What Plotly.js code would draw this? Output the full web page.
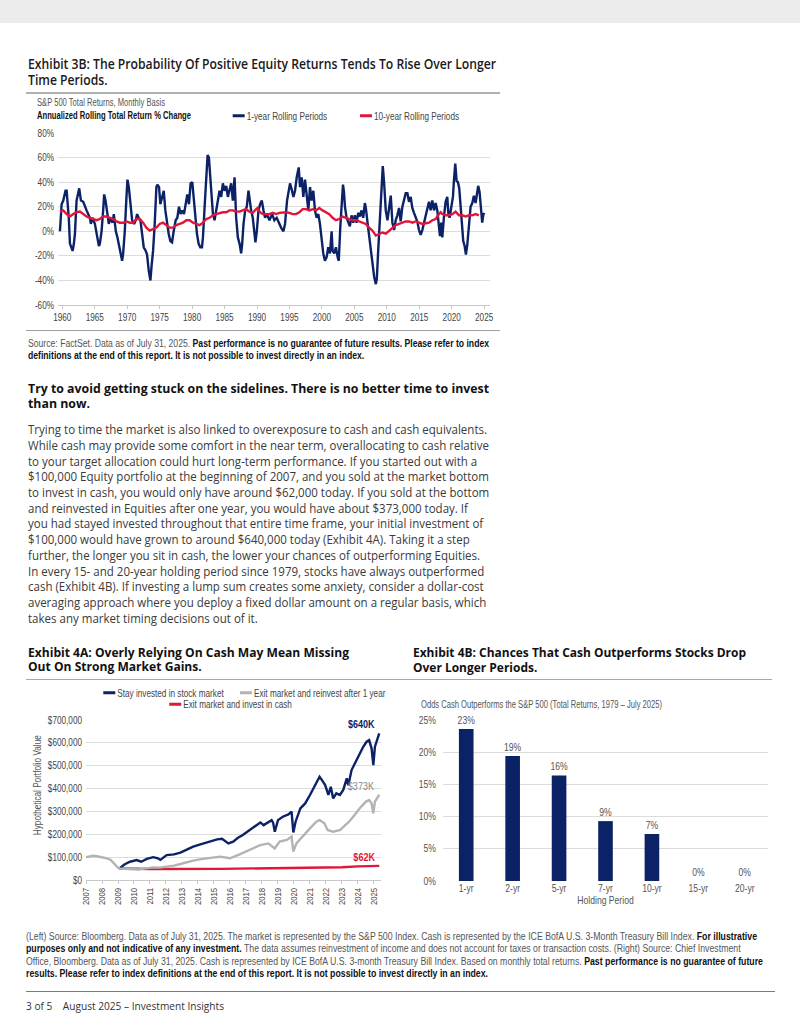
<!DOCTYPE html>
<html><head><meta charset="utf-8">
<script src="https://cdn.plot.ly/plotly-3.0.1.min.js"></script>
<style>
html,body{margin:0;padding:0;background:#fff;}
body{width:800px;height:1035px;position:relative;overflow:hidden;}
.blk{position:absolute;white-space:nowrap;transform-origin:0 0;}
.body{font-family:"Open Sans","Noto Sans",sans-serif;}
.cond{font-family:"Liberation Sans",Arial,sans-serif;}
.rule{position:absolute;}
.chart{position:absolute;}
b{font-weight:700;color:#111;}
</style></head>
<body>
<div style="position:absolute;left:0;top:0;width:800px;height:23px;background:#ececec"></div>

<div class="blk body" data-w="468" style="left:28px;top:56px;font-size:13.5px;line-height:16px;font-weight:600;color:#1a1a1a">
<div><span>Exhibit 3B: The Probability Of Positive Equity Returns Tends To Rise Over Longer</span></div>
<div><span>Time Periods.</span></div>
</div>
<div class="rule" style="left:26px;top:92px;width:474px;height:2px;background:#b0b0b0"></div>

<div class="blk cond" data-w="128" style="left:37px;top:97px;font-size:10px;line-height:12px;color:#555">
<div><span>S&amp;P 500 Total Returns, Monthly Basis</span></div>
</div>
<div class="blk cond" data-w="154" style="left:37px;top:109.5px;font-size:10px;line-height:12px;color:#111;font-weight:700">
<div><span>Annualized Rolling Total Return % Change</span></div>
</div>

<div id="c1" class="chart" style="left:0;top:95px;width:510px;height:235px"></div>
<div class="rule" style="left:26px;top:330px;width:474px;height:1px;background:#a0a0a0"></div>

<div class="blk cond" data-w="461" style="left:28px;top:338px;font-size:10px;line-height:11.5px;color:#555">
<div><span>Source: FactSet. Data as of July 31, 2025. <b>Past performance is no guarantee of future results. Please refer to index</b></span></div>
<div><span><b>definitions at the end of this report. It is not possible to invest directly in an index.</b></span></div>
</div>

<div class="blk body" data-w="461" style="left:28px;top:380.5px;font-size:13px;line-height:15.5px;font-weight:700;color:#111">
<div><span>Try to avoid getting stuck on the sidelines. There is no better time to invest</span></div>
<div><span>than now.</span></div>
</div>

<div class="blk body" data-w="459" style="left:28px;top:422.2px;font-size:12.4px;line-height:15.7px;color:#3a3a3a">
<div><span>Trying to time the market is also linked to overexposure to cash and cash equivalents.</span></div>
<div><span>While cash may provide some comfort in the near term, overallocating to cash relative</span></div>
<div><span>to your target allocation could hurt long-term performance. If you started out with a</span></div>
<div><span>$100,000 Equity portfolio at the beginning of 2007, and you sold at the market bottom</span></div>
<div><span>to invest in cash, you would only have around $62,000 today. If you sold at the bottom</span></div>
<div><span>and reinvested in Equities after one year, you would have about $373,000 today. If</span></div>
<div><span>you had stayed invested throughout that entire time frame, your initial investment of</span></div>
<div><span>$100,000 would have grown to around $640,000 today (Exhibit 4A). Taking it a step</span></div>
<div><span>further, the longer you sit in cash, the lower your chances of outperforming Equities.</span></div>
<div><span>In every 15- and 20-year holding period since 1979, stocks have always outperformed</span></div>
<div><span>cash (Exhibit 4B). If investing a lump sum creates some anxiety, consider a dollar-cost</span></div>
<div><span>averaging approach where you deploy a fixed dollar amount on a regular basis, which</span></div>
<div><span>takes any market timing decisions out of it.</span></div>
</div>

<div class="blk body" data-w="321" style="left:28px;top:644.5px;font-size:13px;line-height:14.6px;font-weight:700;color:#111">
<div><span>Exhibit 4A: Overly Relying On Cash May Mean Missing</span></div>
<div><span>Out On Strong Market Gains.</span></div>
</div>
<div class="blk body" data-w="333" style="left:412.5px;top:644.5px;font-size:13px;line-height:15px;font-weight:700;color:#111">
<div><span>Exhibit 4B: Chances That Cash Outperforms Stocks Drop</span></div>
<div><span>Over Longer Periods.</span></div>
</div>
<div class="rule" style="left:26px;top:678.5px;width:746px;height:1.5px;background:#a8a8a8"></div>

<div id="c4a" class="chart" style="left:0;top:683px;width:400px;height:240px"></div>
<div id="c4b" class="chart" style="left:400px;top:683px;width:400px;height:240px"></div>
<div class="blk cond" data-w="241" style="left:421px;top:699px;font-size:10px;line-height:12px;color:#555">
<div><span>Odds Cash Outperforms the S&amp;P 500 (Total Returns, 1979 – July 2025)</span></div>
</div>

<div class="blk cond" data-w="731" style="left:26px;top:930.7px;font-size:10px;line-height:12.6px;color:#555">
<div><span>(Left) Source: Bloomberg. Data as of July 31, 2025. The market is represented by the S&amp;P 500 Index. Cash is represented by the ICE BofA U.S. 3-Month Treasury Bill Index. <b>For illustrative</b></span></div>
<div><span><b>purposes only and not indicative of any investment.</b> The data assumes reinvestment of income and does not account for taxes or transaction costs. (Right) Source: Chief Investment</span></div>
<div><span>Office, Bloomberg. Data as of July 31, 2025. Cash is represented by ICE BofA U.S. 3-month Treasury Bill Index. Based on monthly total returns. <b>Past performance is no guarantee of future</b></span></div>
<div><span><b>results. Please refer to index definitions at the end of this report. It is not possible to invest directly in an index.</b></span></div>
</div>
<div class="rule" style="left:26px;top:991px;width:749px;height:1px;background:#7a7a7a"></div>
<div class="blk body" data-w="198" style="left:26px;top:998px;font-size:11.5px;line-height:16px;color:#333">
<div><span>3 of 5&nbsp;&nbsp;&nbsp; August 2025 – Investment Insights</span></div>
</div>

<script>
// ---------- Exhibit 3B: annualized rolling total returns (%), x = year as drawn ----------
const oneYrX = [1959.64,1959.9,1960.15,1960.5,1960.67,1961.0,1961.18,1961.43,1961.59,1961.79,1961.95,1962.2,1962.46,1962.61,1962.87,1963.23,1963.74,1964.25,1964.41,1964.66,1965.02,1965.38,1965.64,1965.79,1966.05,1966.3,1966.45,1966.66,1966.92,1967.17,1967.43,1967.74,1967.94,1968.25,1968.5,1968.76,1969.02,1969.22,1969.38,1969.63,1969.89,1970.04,1970.25,1970.5,1970.76,1971.07,1971.32,1971.53,1971.83,1972.04,1972.3,1972.55,1972.86,1973.06,1973.32,1973.58,1973.78,1973.99,1974.24,1974.5,1974.65,1974.91,1975.11,1975.42,1975.63,1975.88,1976.14,1976.39,1976.65,1976.91,1977.16,1977.47,1977.73,1977.98,1978.24,1978.49,1978.75,1979.01,1979.26,1979.52,1979.77,1980.03,1980.24,1980.49,1980.75,1981.0,1981.26,1981.52,1981.67,1981.93,1982.18,1982.39,1982.59,1982.8,1983.0,1983.21,1983.46,1983.72,1983.98,1984.23,1984.49,1984.74,1985.0,1985.26,1985.51,1985.77,1986.02,1986.28,1986.54,1986.79,1987.05,1987.31,1987.56,1987.72,1987.92,1988.18,1988.43,1988.69,1988.84,1989.1,1989.35,1989.61,1989.76,1989.97,1990.23,1990.48,1990.74,1991.0,1991.25,1991.51,1991.92,1992.33,1992.68,1993.04,1993.45,1993.71,1994.07,1994.32,1994.63,1994.89,1995.09,1995.4,1995.61,1995.86,1996.12,1996.43,1996.63,1996.89,1997.14,1997.4,1997.65,1997.91,1998.17,1998.42,1998.68,1998.93,1999.19,1999.45,1999.7,1999.96,2000.21,2000.47,2000.73,2000.98,2001.24,2001.5,2001.65,2001.9,2002.16,2002.42,2002.6,2002.85,2003.05,2003.25,2003.4,2003.55,2003.8,2004.06,2004.31,2004.57,2004.83,2005.08,2005.34,2005.59,2005.85,2006.11,2006.36,2006.62,2006.77,2007.03,2007.28,2007.54,2007.8,2008.05,2008.31,2008.46,2008.66,2008.92,2009.18,2009.38,2009.59,2009.84,2010.1,2010.35,2010.61,2010.86,2011.12,2011.37,2011.63,2011.89,2012.14,2012.4,2012.66,2012.91,2013.17,2013.42,2013.68,2013.93,2014.19,2014.45,2014.7,2014.96,2015.22,2015.47,2015.73,2015.99,2016.24,2016.5,2016.75,2017.01,2017.27,2017.52,2017.78,2018.03,2018.19,2018.39,2018.55,2018.81,2019.06,2019.32,2019.47,2019.67,2019.83,2019.98,2020.19,2020.34,2020.55,2020.75,2020.96,2021.16,2021.37,2021.57,2021.78,2021.99,2022.19,2022.4,2022.65,2022.91,2023.17,2023.42,2023.68,2023.93,2024.08,2024.29,2024.49,2024.7,2024.85,2025.0];
const oneYrRet = [0,22,25,33,33,11,-10,-14,-16,-10,-2,25,33,35,25,24,17,11,6,11,6,-5,-12,-10,0,17,30,25,14,6,11,7,14,0,-5,-13,-20,-24,-18,0,28,42,36,22,9,6,9,14,10,9,-2,-13,-16,-19,-32,-40,-27,-16,6,36,38,36,22,30,33,17,6,-2,-8,-9,0,9,11,20,14,17,14,22,30,22,39,40,28,11,-2,-10,-13,-13,-5,20,47,62,60,44,25,14,9,17,25,33,28,39,33,37,28,33,39,25,44,11,-5,-10,-18,-10,6,17,20,33,25,17,11,-5,-9,0,17,22,25,17,11,14,9,14,9,11,6,3,0,6,25,33,39,33,28,33,44,52,36,44,28,42,28,17,36,25,33,17,11,14,6,-5,-18,-24,-21,-13,-18,0,-16,-18,-13,-21,-24,5,25,38,32,20,11,7,4,13,7,13,7,15,12,17,11,23,19,7,-4,-12,-23,-37,-43,-39,-17,9,39,53,39,17,9,20,29,7,1,9,13,19,8,20,25,31,31,24,28,19,15,12,8,1,-3,1,7,13,17,24,17,25,17,23,17,4,-4,7,-5,12,24,28,15,11,17,20,28,41,55,41,40,35,20,4,-8,-12,-19,-11,4,20,23,29,23,32,37,32,20,7,13,15];
const tenYrX = [1959.64,1960.15,1960.67,1961.18,1961.69,1962.2,1962.72,1963.23,1963.74,1964.25,1964.76,1965.28,1965.79,1966.3,1966.81,1967.33,1967.84,1968.35,1968.86,1969.38,1969.89,1970.4,1970.91,1971.42,1971.94,1972.45,1972.96,1973.47,1973.99,1974.5,1975.01,1975.52,1976.03,1976.55,1977.06,1977.57,1978.08,1978.6,1979.11,1979.62,1980.13,1980.65,1981.16,1981.67,1982.18,1982.7,1983.21,1983.72,1984.23,1984.74,1985.26,1985.77,1986.28,1986.79,1987.31,1987.82,1988.33,1988.84,1989.35,1989.87,1990.12,1990.38,1990.89,1991.4,1991.92,1992.43,1992.94,1993.45,1993.97,1994.48,1994.99,1995.5,1996.01,1996.53,1997.04,1997.55,1998.06,1998.58,1999.09,1999.6,2000.11,2000.63,2001.14,2001.65,2002.16,2002.67,2003.19,2003.7,2004.21,2004.72,2005.24,2005.75,2006.26,2006.77,2007.28,2007.8,2008.31,2008.82,2009.33,2009.85,2010.36,2010.87,2011.38,2011.89,2012.41,2012.92,2013.43,2013.94,2014.46,2014.97,2015.48,2015.99,2016.5,2017.02,2017.53,2018.04,2018.3,2018.55,2019.07,2019.58,2020.09,2020.6,2021.11,2021.63,2022.14,2022.65,2023.16,2023.68,2024.19];
const tenYrRet = [16,17,14,12,14,15.5,16,14,12,11,10,9,10,12,12,11,10,8,7,7,8,7,7,10,10,7,3,0.5,2,3,6,7,5,3,3,5,6,7,9,9,7,6,5,7,10,11,13,14,15,15.5,15.5,17,17,16,16,17,18,16,15,18,19,16,14,14,14,15,14,15,15.5,15.5,15,14,14,15.5,18,18,17,18,17,19,17,15.5,14,11,9,10,12,11,10,9,9,8,7,6,3,0.5,-3.5,-2,-1,-2,0.5,3,5,6,7,8,8,7,8,7,6,6.5,7,9,10,14,15.5,14,13,13,14,16,13,13,12,13,13,14,13];
const ex3bXTicks = [1960,1965,1970,1975,1980,1985,1990,1995,2000,2005,2010,2015,2020,2025];
const ex3bYTicks = [-60,-40,-20,0,20,40,60,80];
const ex3bYText = ['-60%','-40%','-20%','0%','20%','40%','60%','80%'];

// ---------- Exhibit 4A: hypothetical portfolio value ($) ----------
const stayX = [2009.08,2009.4,2009.75,2010.17,2010.45,2010.8,2011.2,2011.5,2011.65,2012.04,2012.5,2012.9,2013.3,2013.7,2014.1,2014.5,2014.9,2015.2,2015.5,2015.7,2015.9,2016.2,2016.5,2016.8,2017.25,2017.5,2017.7,2017.9,2018.1,2018.3,2018.6,2018.7,2018.8,2019.0,2019.3,2019.65,2019.85,2019.96,2020.1,2020.4,2020.7,2021.0,2021.3,2021.6,2021.75,2021.95,2022.15,2022.3,2022.45,2022.65,2022.87,2023.08,2023.3,2023.4,2023.6,2023.9,2024.1,2024.33,2024.54,2024.7,2024.85,2024.96,2025.06,2025.17,2025.33];
const stayVal = [50000,68000,80000,87000,80000,92000,100000,95000,88000,109000,112000,120000,133000,146000,155000,163000,172000,178000,180000,170000,160000,168000,185000,197000,219000,232000,240000,252000,240000,248000,262000,250000,211000,262000,277000,287000,299000,208000,255000,313000,335000,372000,415000,452000,437000,415000,372000,408000,357000,379000,372000,394000,445000,415000,481000,525000,547000,583000,605000,612000,576000,503000,583000,605000,642000];
const reinvX = [2007.0,2007.2,2007.45,2007.7,2007.9,2008.3,2008.55,2008.75,2008.95,2009.08,2009.5,2010.0,2010.3,2010.6,2011.2,2011.6,2012.04,2012.5,2012.9,2013.3,2013.7,2014.1,2014.5,2014.9,2015.375,2015.7,2016.0,2016.6,2017.25,2017.9,2018.4,2018.8,2019.1,2019.55,2019.85,2019.96,2020.15,2020.6,2021.0,2021.4,2021.6,2021.9,2022.1,2022.45,2022.9,2023.2,2023.4,2023.7,2024.1,2024.5,2024.7,2024.85,2024.96,2025.06,2025.33];
const reinvVal = [100000,102000,106000,104000,102000,95000,88000,70000,57000,50000,49000,48000,46000,50000,55000,54000,58000,63000,70000,78000,85000,90000,95000,98000,102000,98000,95000,112000,131000,153000,160000,138000,168000,175000,190000,124000,160000,197000,226000,255000,262000,248000,219000,211000,219000,240000,252000,277000,313000,343000,350000,335000,292000,343000,373000];
const cashX = [2009.08,2011.0,2015.4,2018.0,2020.0,2022.0,2023.0,2024.0,2025.33];
const cashVal = [50000,48000,48500,50500,53000,53500,56000,59500,62000];
const ex4aYears = [2007,2008,2009,2010,2011,2012,2013,2014,2015,2016,2017,2018,2019,2020,2021,2022,2023,2024,2025];
const ex4aYTicks = [0,100000,200000,300000,400000,500000,600000,700000];
const ex4aYText = ['$0','$100,000','$200,000','$300,000','$400,000','$500,000','$600,000','$700,000'];
const ex4aEndLabels = ['$640K','$373K','$62K'];

// ---------- Exhibit 4B: odds cash outperforms the S&P 500 (%) ----------
const holdingPeriods = ['1-yr','2-yr','5-yr','7-yr','10-yr','15-yr','20-yr'];
const cashOdds = [23.6,19.4,16.4,9.3,7.3,0,0];
const cashOddsLabels = ['23%','19%','16%','9%','7%','0%','0%'];
const ex4bYTicks = [0,5,10,15,20,25];
const ex4bYText = ['0%','5%','10%','15%','20%','25%'];

const NAVY = '#0b2266', RED = '#e0163a', GRAY = '#b3b3b3';
const CF = '"Liberation Sans",Arial,sans-serif';
const cfg = {staticPlot:true, displayModeBar:false};
const LEGFONT = {family:CF, size:10, color:'#444'};
function leg(x, y){ return {orientation:'h', x:x, xanchor:'left', y:y, yanchor:'middle', font:LEGFONT, bgcolor:'rgba(0,0,0,0)'}; }

const p1 = Plotly.newPlot('c1', [
  {x:oneYrX, y:oneYrRet, type:'scatter', mode:'lines', name:'1-year Rolling Periods', line:{color:NAVY, width:2.4}, legend:'legend'},
  {x:tenYrX, y:tenYrRet, type:'scatter', mode:'lines', name:'10-year Rolling Periods', line:{color:RED, width:2.4}, legend:'legend2'}
], {
  width:510, height:235, margin:{l:58, r:20, t:38, b:25, autoexpand:false},
  paper_bgcolor:'rgba(0,0,0,0)', plot_bgcolor:'rgba(0,0,0,0)',
  font:{family:CF, size:10, color:'#444'},
  showlegend:true,
  legend:leg(0.3442, 1.1006),
  legend2:leg(0.6389, 1.1006),
  xaxis:{range:[1959.34,2025.9], tickvals:ex3bXTicks, ticktext:ex3bXTicks.map(String), ticks:'outside', ticklen:3, tickcolor:'#c8c8c8',
         showgrid:false, zeroline:false, showline:true, linecolor:'#c8c8c8', tickfont:{family:CF, size:10, color:'#444'}},
  yaxis:{range:[-60,80], tickvals:ex3bYTicks, ticktext:ex3bYText, showgrid:true, gridcolor:'#dcdcdc', gridwidth:1,
         zeroline:false, ticks:'', ticklabelstandoff:3, tickfont:{family:CF, size:10, color:'#444'}}
}, cfg);

const p2 = Plotly.newPlot('c4a', [
  {x:cashX, y:cashVal, type:'scatter', mode:'lines', name:'Exit market and invest in cash', line:{color:RED, width:2.4}, legend:'legend3'},
  {x:stayX, y:stayVal, type:'scatter', mode:'lines', name:'Stay invested in stock market', line:{color:NAVY, width:2.4}, legend:'legend'},
  {x:reinvX, y:reinvVal, type:'scatter', mode:'lines', name:'Exit market and reinvest after 1 year', line:{color:GRAY, width:2.4}, legend:'legend2'}
], {
  width:400, height:240, margin:{l:86, r:19, t:37, b:43, autoexpand:false},
  paper_bgcolor:'rgba(0,0,0,0)', plot_bgcolor:'rgba(0,0,0,0)',
  font:{family:CF, size:10, color:'#444'},
  showlegend:true,
  legend:leg(-0.0295, 1.171),
  legend2:leg(0.4339, 1.171),
  legend3:leg(0.194, 1.098),
  xaxis:{range:[2007,2025.44], tickvals:ex4aYears, ticktext:ex4aYears.map(String), tickangle:-90, ticks:'outside', ticklen:3,
         tickcolor:'#c8c8c8', showgrid:false, zeroline:false, showline:true, linecolor:'#c8c8c8', tickfont:{family:CF, size:9.5, color:'#444'}},
  yaxis:{range:[0,700000], tickvals:ex4aYTicks, ticktext:ex4aYText, showgrid:true, gridcolor:'#dcdcdc', zeroline:false, ticks:'',
         ticklabelstandoff:3, tickfont:{family:CF, size:10, color:'#444'}},
  annotations:[
    {x:stayX[stayX.length-1], y:stayVal[stayVal.length-1], text:'<b>'+ex4aEndLabels[0]+'</b>', xanchor:'right', yanchor:'bottom', yshift:1, showarrow:false, font:{family:CF, size:11, color:NAVY}},
    {x:reinvX[reinvX.length-1], y:reinvVal[reinvVal.length-1], text:ex4aEndLabels[1], xanchor:'right', yanchor:'bottom', yshift:1, showarrow:false, font:{family:CF, size:11, color:'#8a8a8a'}},
    {x:cashX[cashX.length-1], y:cashVal[cashVal.length-1], text:'<b>'+ex4aEndLabels[2]+'</b>', xanchor:'right', yanchor:'bottom', yshift:1, showarrow:false, font:{family:CF, size:11, color:RED}},
    {xref:'paper', yref:'paper', x:-0.1617, y:0.594, text:'Hypothetical Portfolio Value', textangle:-90, showarrow:false, xanchor:'center', yanchor:'middle', font:{family:CF, size:10, color:'#555'}}
  ]
}, cfg);

const p3 = Plotly.newPlot('c4b', [
  {type:'bar', x:holdingPeriods, y:cashOdds, text:cashOddsLabels, textposition:'outside', cliponaxis:false, constraintext:'none',
   textfont:{family:CF, size:10.5, color:'#555'}, marker:{color:NAVY}, width:0.315, hoverinfo:'skip'}
], {
  width:400, height:240, margin:{l:43, r:32, t:37, b:42, autoexpand:false},
  paper_bgcolor:'rgba(0,0,0,0)', plot_bgcolor:'rgba(0,0,0,0)',
  font:{family:CF, size:10, color:'#555'},
  showlegend:false,
  xaxis:{type:'category', ticks:'', showgrid:false, zeroline:false, showline:false, tickfont:{family:CF, size:10.5, color:'#555'},
         title:{text:'Holding Period', font:{family:CF, size:10.5, color:'#555'}, standoff:2}},
  yaxis:{range:[0,25], tickvals:ex4bYTicks, ticktext:ex4bYText, showgrid:true, gridcolor:'#dcdcdc', zeroline:false, ticks:'',
         ticklabelstandoff:6, tickfont:{family:CF, size:10.5, color:'#555'}}
}, cfg);

// narrow the chart lettering (the original uses a condensed face) and use short legend keys
function condense(id, k){
  document.querySelectorAll('#' + id + ' svg text').forEach(function(t){
    if (t.dataset.cond) return;
    t.dataset.cond = '1';
    var x = parseFloat(t.getAttribute('x') || '0') || 0;
    var tr = t.getAttribute('transform') || '';
    t.setAttribute('transform', tr + ' translate(' + x + ',0) scale(' + k + ',1) translate(' + (-x) + ',0)');
  });
  document.querySelectorAll('#' + id + ' .legendlines path').forEach(function(p){
    p.setAttribute('d', 'M26,0h12');
    p.style.strokeWidth = '3px';
  });
}
Promise.all([p1, p2, p3]).then(function(){ condense('c1', 0.82); condense('c4a', 0.82); condense('c4b', 0.82); });

function fitBlocks(){
  document.querySelectorAll('.blk[data-w]').forEach(function(b){
    b.style.transform = 'none';
    var ref = b.querySelector('span');
    var w = ref.getBoundingClientRect().width;
    if (w > 0) b.style.transform = 'scaleX(' + (parseFloat(b.dataset.w) / w) + ')';
  });
}
fitBlocks();
if (document.fonts && document.fonts.ready) document.fonts.ready.then(fitBlocks);
</script>
</body></html>
